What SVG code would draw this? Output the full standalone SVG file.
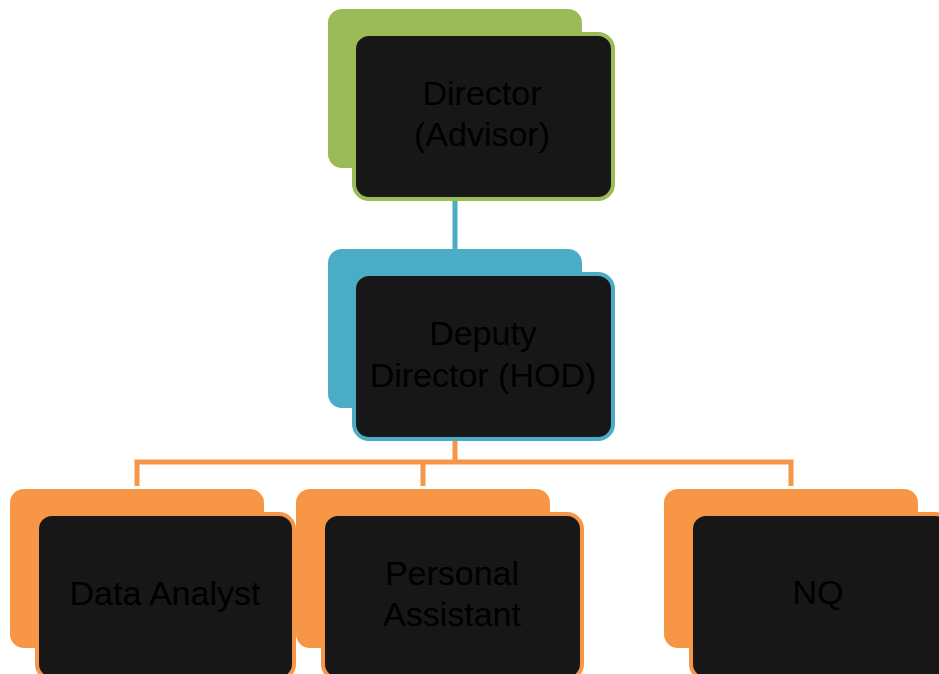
<svg xmlns="http://www.w3.org/2000/svg" width="939" height="674" viewBox="0 0 939 674">
<style>
.back{stroke:none}
.front{fill:#171717;stroke-width:4}
.g{fill:#9BBB59}.gs{stroke:#9BBB59}
.b{fill:#4BACC6}.bs{stroke:#4BACC6}
.o{fill:#F79646}.os{stroke:#F79646}
text{font-family:"Liberation Sans",Arial,sans-serif;font-size:34px;fill:#000;text-anchor:middle}
.conn{fill:none;stroke-width:5}
</style>
<rect width="939" height="674" fill="#fff"/>
<g id="connectors">
<line class="conn" x1="455" y1="199" x2="455" y2="251" stroke="#4BACC6"/>
<path class="conn" d="M455 439 V462 M137 486 V462 H791 V486 M423 462 V486" stroke="#F79646" stroke-width="4"/>
</g>
<g id="director">
<rect class="back g" x="328" y="9" width="254" height="159" rx="14"/>
<rect class="front gs" x="354" y="34" width="259" height="165" rx="15"/>
<text x="482" y="105">Director</text>
<text x="482" y="146">(Advisor)</text>
</g>
<g id="deputy">
<rect class="back b" x="328" y="249" width="254" height="159" rx="14"/>
<rect class="front bs" x="354" y="274" width="259" height="165" rx="15"/>
<text x="483" y="345">Deputy</text>
<text x="483" y="387">Director (HOD)</text>
</g>
<g id="data-analyst">
<rect class="back o" x="10" y="489" width="254" height="159" rx="14"/>
<rect class="front os" x="37" y="514" width="257" height="165" rx="15"/>
<text x="165" y="605">Data Analyst</text>
</g>
<g id="personal-assistant">
<rect class="back o" x="296" y="489" width="254" height="159" rx="14"/>
<rect class="front os" x="323" y="514" width="259" height="165" rx="15"/>
<text x="452" y="585">Personal</text>
<text x="452" y="626">Assistant</text>
</g>
<g id="nq">
<rect class="back o" x="664" y="489" width="254" height="159" rx="14"/>
<rect class="front os" x="691" y="514" width="259" height="165" rx="15"/>
<text x="818" y="604">NQ</text>
</g>
</svg>
